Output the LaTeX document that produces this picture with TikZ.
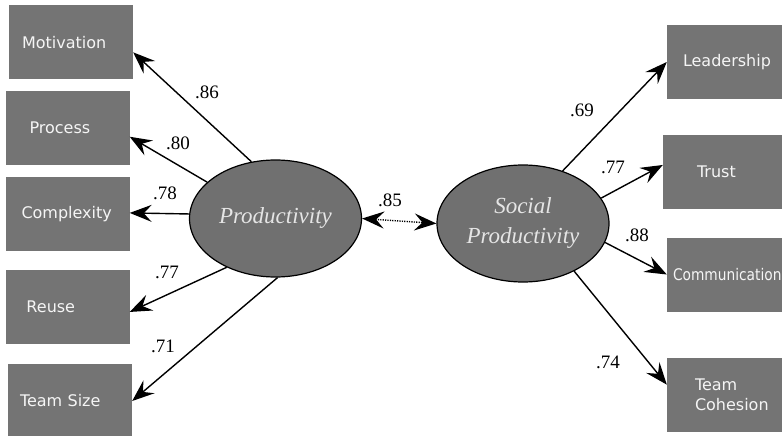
\documentclass[tikz,border=0pt]{standalone}
\usepackage{fontspec}
\setmainfont{Liberation Serif}
\setsansfont{DejaVu Sans}
\usetikzlibrary{arrows.meta,shapes.geometric}
\definecolor{boxgray}{HTML}{747474}
\definecolor{ovalgray}{HTML}{707070}
\tikzset{
  indicator/.style={fill=boxgray, minimum width=124pt, minimum height=74pt,
    inner ysep=0pt, inner xsep=#1, text width={124pt-2*#1}, align=left,
    text=white!96!black, font=\sffamily\fontsize{16}{20}\selectfont},
  factor/.style={ellipse, draw=black, line width=1.2pt, fill=ovalgray,
    minimum width=172pt, minimum height=117pt, inner sep=0pt,
    text=white!90!black, align=center,
    font=\itshape\fontsize{23}{30}\selectfont},
  loadval/.style={font=\fontsize{19}{20}\selectfont},
  loading/.style={-{Stealth[length=22pt,width=17pt,inset=8pt]}, line width=1.4pt},
  corr/.style={{Stealth[length=22pt,width=17pt,inset=8pt]}-{Stealth[length=22pt,width=17pt,inset=8pt]},
    line width=1.4pt, dash pattern=on 1.2pt off 1.2pt}
}
\begin{document}
\begin{tikzpicture}[x=1pt, y=-1pt]
  \useasboundingbox (0,0) rectangle (782,436);
  \clip (0,0) rectangle (782,436);

  % observed variables, left
  \node[indicator=13pt] (motiv) at (71,42.5) {Motivation};
  \node[indicator=24pt] (proc) at (67.5,128) {Process};
  \node[indicator=16pt] (compl) at (67.5,214) {Complexity};
  \node[indicator=21pt] (reuse) at (67.5,306.5) {Reuse};
  \node[indicator=12pt] (tsize) at (70,401) {Team Size};

  % observed variables, right
  \node[indicator=16pt] (lead) at (729,62) {Leadership};
  \node[indicator=34pt] (trust) at (725,171.5) {Trust};
  \node[indicator=6pt] (comm) at (729,274.5) {\scalebox{0.86}[1]{Communication}};
  \node[indicator=28pt] (cohes) at (729,394.5) {Team\\Cohesion};

  % latent factors
  \node[factor] (prod) at (275.5,218.5) {Productivity};
  \node[factor] (soc) at (523,223.5) {Social\\Productivity};

  \draw[loading] (prod.113) -- (motiv.-9.6);
  \draw[loading] (prod.152) -- (proc.-8.5);
  \draw[loading] (prod.177) -- (compl.1);
  \draw[loading] (prod.225.6) -- (reuse.-5);
  \draw[loading] (prod.272) -- (tsize.east);

  \draw[loading] (soc.53) -- (lead.west);
  \draw[loading] (soc.18.5) -- (trust.174);
  \draw[loading] (soc.-13.4) -- (comm.west);
  \draw[loading] (soc.-43.6) -- (cohes.171);

  \draw[corr] (prod.east) -- (soc.west);

  % loadings
  \node[loadval] (lmotiv) at (207,92) {.86};
  \node[loadval] (lproc) at (178,143) {.80};
  \node[loadval] (lcompl) at (165,193) {.78};
  \node[loadval] (lreuse) at (167,272) {.77};
  \node[loadval] (ltsize) at (163,346) {.71};
  \node[loadval] (lcorr) at (390,200) {.85};
  \node[loadval] (llead) at (582,110) {.69};
  \node[loadval] (ltrust) at (613,167) {.77};
  \node[loadval] (lcomm) at (637,235) {.88};
  \node[loadval] (lcohes) at (608,362) {.74};
\end{tikzpicture}
\end{document}
